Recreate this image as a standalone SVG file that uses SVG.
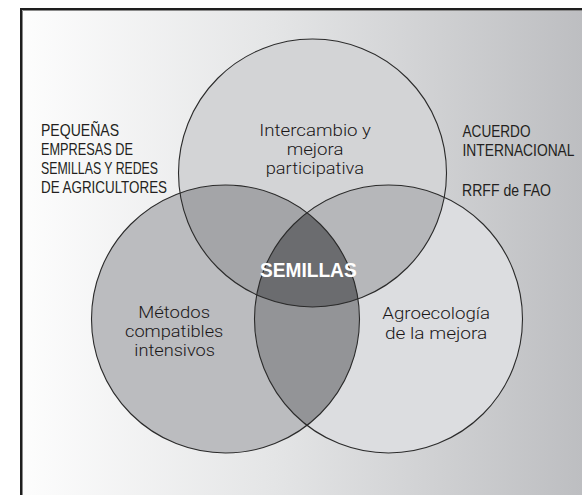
<svg xmlns="http://www.w3.org/2000/svg" width="582" height="495" viewBox="0 0 582 495">
  <defs>
    <linearGradient id="bg" x1="22" y1="0" x2="582" y2="0" gradientUnits="userSpaceOnUse">
      <stop offset="0" stop-color="#fdfdfd"/>
      <stop offset="0.45" stop-color="#e4e5e6"/>
      <stop offset="1" stop-color="#bdbec1"/>
    </linearGradient>
    <clipPath id="clipTop"><circle cx="312.5" cy="173" r="134"/></clipPath>
    <clipPath id="clipLeft"><circle cx="225.5" cy="319" r="134"/></clipPath>
    <style>
      .ring { fill: none; stroke: #2b2b2b; stroke-width: 1.1; }
      .lbl { font-family: Roboto, "Liberation Sans", sans-serif; font-size: 16px; font-weight: 300; fill: #1a1718; }
      .out { font-family: "Liberation Sans", Arial, sans-serif; font-size: 16.8px; font-weight: 400; fill: #231f20; }
      .core { font-family: "Liberation Sans", Arial, sans-serif; font-size: 19.5px; font-weight: 700; fill: #ffffff; }
    </style>
  </defs>

  <rect x="0" y="0" width="582" height="495" fill="#ffffff"/>
  <rect x="22" y="10" width="570" height="495" fill="url(#bg)"/>
  <path d="M21 500 V9 H590" fill="none" stroke="#1e1e1e" stroke-width="2"/>
  <path d="M22.5 500 V10.5 H590" fill="none" stroke="#8a8a8a" stroke-width="1"/>

  <g id="fills">
    <circle cx="225.5" cy="319" r="134" fill="#bbbcbf"/>
    <circle cx="388.5" cy="319" r="134" fill="#dcdde0"/>
    <circle cx="312.5" cy="173" r="134" fill="#d3d4d6"/>
    <circle cx="225.5" cy="319" r="134" fill="#a4a5a8" clip-path="url(#clipTop)"/>
    <circle cx="388.5" cy="319" r="134" fill="#b6b7ba" clip-path="url(#clipTop)"/>
    <circle cx="388.5" cy="319" r="134" fill="#939497" clip-path="url(#clipLeft)"/>
    <g clip-path="url(#clipTop)">
      <circle cx="388.5" cy="319" r="134" fill="#6b6c6f" clip-path="url(#clipLeft)"/>
    </g>
  </g>

  <g id="node-top">
    <circle class="ring" cx="312.5" cy="173" r="134"/>
    <text class="lbl"><tspan x="259.3" y="136" textLength="111.7" lengthAdjust="spacingAndGlyphs">Intercambio y</tspan><tspan x="286.7" y="155" textLength="56.7" lengthAdjust="spacingAndGlyphs">mejora</tspan><tspan x="265.7" y="173.8" textLength="98.3" lengthAdjust="spacingAndGlyphs">participativa</tspan></text>
  </g>
  <g id="node-left">
    <circle class="ring" cx="225.5" cy="319" r="134"/>
    <text class="lbl"><tspan x="138.3" y="317.5" textLength="71.7" lengthAdjust="spacingAndGlyphs">Métodos</tspan><tspan x="125" y="336.7" textLength="98.3" lengthAdjust="spacingAndGlyphs">compatibles</tspan><tspan x="134.3" y="356" textLength="80.7" lengthAdjust="spacingAndGlyphs">intensivos</tspan></text>
  </g>
  <g id="node-right">
    <circle class="ring" cx="388.5" cy="319" r="134"/>
    <text class="lbl"><tspan x="382.3" y="319" textLength="107.7" lengthAdjust="spacingAndGlyphs">Agroecología</tspan><tspan x="385" y="338.5" textLength="102.3" lengthAdjust="spacingAndGlyphs">de la mejora</tspan></text>
  </g>
  <g id="node-center">
    <text class="core" x="260" y="276.7" textLength="96.7" lengthAdjust="spacingAndGlyphs">SEMILLAS</text>
  </g>
  <g id="label-left" transform="translate(41 0) scale(0.8 1)">
    <text class="out"><tspan x="0" y="136" textLength="97.5" lengthAdjust="spacingAndGlyphs">PEQUEÑAS</tspan><tspan x="0" y="155" textLength="115" lengthAdjust="spacingAndGlyphs">EMPRESAS DE</tspan><tspan x="0" y="173.8" textLength="146.25" lengthAdjust="spacingAndGlyphs">SEMILLAS Y REDES</tspan><tspan x="0" y="192.6" textLength="157.5" lengthAdjust="spacingAndGlyphs">DE AGRICULTORES</tspan></text>
  </g>
  <g id="label-right" transform="translate(462.5 0) scale(0.8 1)">
    <text class="out"><tspan x="0" y="137.5" textLength="85" lengthAdjust="spacingAndGlyphs">ACUERDO</tspan><tspan x="0" y="156.5" textLength="140" lengthAdjust="spacingAndGlyphs">INTERNACIONAL</tspan><tspan x="-0.6" y="196" textLength="111.25" lengthAdjust="spacingAndGlyphs">RRFF de FAO</tspan></text>
  </g>
  <g id="connectors"/>
</svg>
